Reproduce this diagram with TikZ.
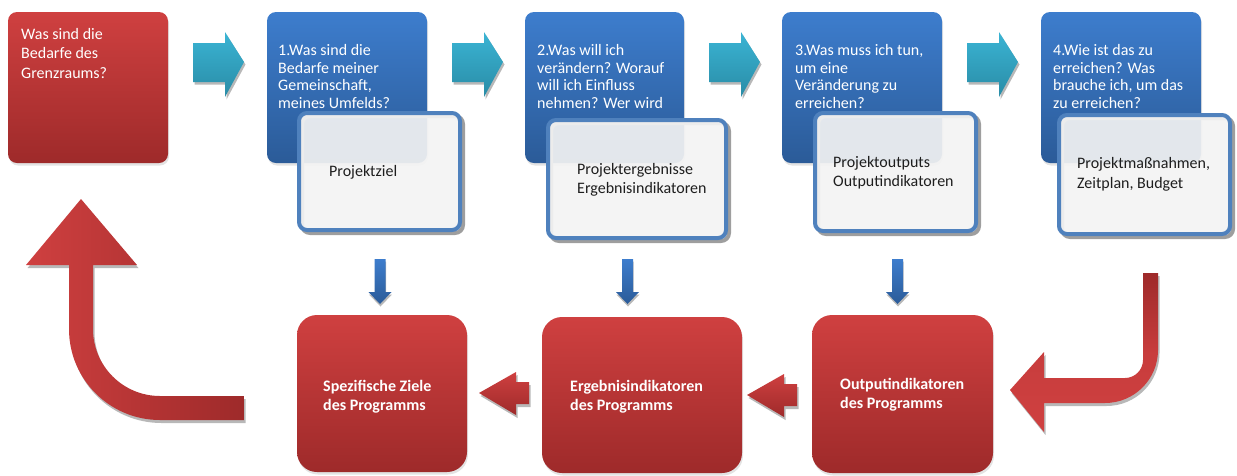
\documentclass[tikz,border=0pt]{standalone}
\usepackage{fontspec}
\setmainfont{Carlito}
\usetikzlibrary{shadows}
\definecolor{redtop}{HTML}{CF4040}
\definecolor{redbot}{HTML}{9E2A2A}
\definecolor{bluetop}{HTML}{3D7DCD}
\definecolor{bluebot}{HTML}{2B5B98}
\definecolor{tealtop}{HTML}{3AB4D4}
\definecolor{tealbot}{HTML}{2A8CA6}
\definecolor{wframe}{HTML}{4F81BD}
\definecolor{wfill}{HTML}{F3F3F3}
\definecolor{wtext}{HTML}{1E1E1E}
\begin{document}
\begin{tikzpicture}[x=1pt,y=-1pt,
  box/.style={anchor=north west, inner sep=0pt, outer sep=0pt, draw=none},
  softshadow/.style={drop shadow={shadow xshift=1pt, shadow yshift=-2.5pt, opacity=.22}},
  redbox/.style={box, rounded corners=9pt, top color=redtop, bottom color=redbot, softshadow},
  bluebox/.style={box, rounded corners=9pt, top color=bluetop, bottom color=bluebot, softshadow},
  progbox/.style={box, rounded corners=20pt, top color=redtop, bottom color=redbot, softshadow},
  wbox/.style={anchor=north west, inner sep=0pt, rounded corners=8pt, draw=wframe, line width=4pt,
    fill=wfill, fill opacity=.92,
    preaction={draw=black!38, line width=4pt, fill=none, transform canvas={xshift=3pt,yshift=-3pt}}},
  qtext/.style={anchor=north west, inner sep=0pt, text=white, align=left, font=\fontsize{16}{17.5}\selectfont},
  wtxt/.style={anchor=west, inner sep=0pt, text=wtext, align=left, font=\fontsize{16}{19.5}\selectfont},
  ptxt/.style={anchor=west, inner sep=0pt, text=white, align=left, font=\bfseries\fontsize{16}{19}\selectfont},
  arrshadow/.style={fill=black, opacity=.28},
  tealarr/.pic={
    \fill[arrshadow, xshift=1.5pt, yshift=-2.5pt] (0,0) -- (32,0) -- (32,-11) -- (51,19) -- (32,54) -- (32,39) -- (0,39) -- cycle;
    \shade[top color=tealtop, bottom color=tealbot] (0,0) -- (32,0) -- (32,-11) -- (51,19) -- (32,54) -- (32,39) -- (0,39) -- cycle;
  },
  downarr/.pic={
    \fill[arrshadow, xshift=0.5pt, yshift=-2.5pt] (-5.5,0) -- (5.5,0) -- (5.5,33) -- (11.5,33) -- (0,45) -- (-11.5,33) -- (-5.5,33) -- cycle;
    \shade[top color=bluetop, bottom color=bluebot] (-5.5,0) -- (5.5,0) -- (5.5,33) -- (11.5,33) -- (0,45) -- (-11.5,33) -- (-5.5,33) -- cycle;
  },
  leftarr/.pic={
    \fill[arrshadow, xshift=1.5pt, yshift=-3pt] (0,0) -- (37,-21) -- (37,-11) -- (50,-11) -- (50,11) -- (37,11) -- (37,22) -- cycle;
    \shade[top color=redtop, bottom color=redbot] (0,0) -- (37,-21) -- (37,-11) -- (50,-11) -- (50,11) -- (37,11) -- (37,22) -- cycle;
  }
]
\useasboundingbox (0,0) rectangle (1237,475);

% ---------- top row ----------
\node[redbox, minimum width=160pt, minimum height=151pt] (r0) at (8,12) {};
\node[qtext, font=\fontsize{16}{19.5}\selectfont] (r0t) at (21,28) {Was sind die\\Bedarfe des\\Grenzraums?};

\node[bluebox, minimum width=160pt, minimum height=151pt] (b1) at (267,12) {};
\node[bluebox, minimum width=159pt, minimum height=151pt] (b2) at (525,12) {};
\node[bluebox, minimum width=160pt, minimum height=151pt] (b3) at (782,12) {};
\node[bluebox, minimum width=160pt, minimum height=151pt] (b4) at (1041,12) {};

\node[qtext] (b1t) at (278,44.5) {1.Was sind die\\Bedarfe meiner\\Gemeinschaft,\\meines Umfelds?};
\node[qtext] (b2t) at (537,44.5) {2.Was will ich\\verändern? Worauf\\will ich Einfluss\\nehmen? Wer wird};
\node[qtext] (b3t) at (795,44.5) {3.Was muss ich tun,\\um eine\\Veränderung zu\\erreichen?};
\node[qtext] (b4t) at (1053,44.5) {4.Wie ist das zu\\erreichen? Was\\brauche ich, um das\\zu erreichen?};

\pic at (193,43) {tealarr};
\pic at (452,43) {tealarr};
\pic at (709,43) {tealarr};
\pic at (967,43) {tealarr};

% white overlay boxes
\node[wbox, minimum width=161pt, minimum height=117pt] (w1) at (297,111) {};
\node[wbox, minimum width=178pt, minimum height=118pt] (w2) at (546,118) {};
\node[wbox, minimum width=161pt, minimum height=118pt] (w3) at (813,111) {};
\node[wbox, minimum width=171pt, minimum height=119pt] (w4) at (1057,113) {};

\node[wtxt] (w1t) at (329,172) {Projektziel};
\node[wtxt] (w2t) at (577,180) {Projektergebnisse\\Ergebnisindikatoren};
\node[wtxt] (w3t) at (833,172.5) {Projektoutputs\\Outputindikatoren};
\node[wtxt] (w4t) at (1077,174.5) {Projektmaßnahmen,\\Zeitplan, Budget};

% down arrows
\pic at (380,259) {downarr};
\pic at (627.5,259) {downarr};
\pic at (897.5,259) {downarr};

% ---------- bottom row ----------
\node[progbox, minimum width=170pt, minimum height=157pt] (p1) at (297,315) {};
\node[progbox, minimum width=200pt, minimum height=156pt] (p2) at (542,317) {};
\node[progbox, minimum width=181pt, minimum height=158pt] (p3) at (812,315) {};

\node[ptxt] (p1t) at (323,396.5) {Spezifische Ziele\\des Programms};
\node[ptxt] (p2t) at (570,396.5) {Ergebnisindikatoren\\des Programms};
\node[ptxt] (p3t) at (840,394.5) {Outputindikatoren\\des Programms};

\pic at (479,393) {leftarr};
\pic at (747,395) {leftarr};

% big bent arrow on the left (back up to the first box)
\def\bigleft{(244,420) -- (160,420) .. controls (109.7,420) and (69,379.3) .. (69,329) -- (69,265) -- (26,265) -- (81,199) -- (137,265) -- (93,265) -- (93,329) .. controls (93,366) and (123,396) .. (160,396) -- (244,396) -- cycle}
\fill[arrshadow, xshift=1.5pt, yshift=-3pt] \bigleft;
\shade[left color=redtop, right color=redbot] \bigleft;

% bent arrow on the right
\def\bigright{(1143,273) -- (1158,273) -- (1158,350) .. controls (1158,379.3) and (1134.3,403) .. (1105,403) -- (1044,403) -- (1044,432) -- (1010,390) -- (1044,352) -- (1044,378) -- (1125,378) .. controls (1134.9,378) and (1143,369.9) .. (1143,360) -- cycle}
\fill[arrshadow, xshift=1.5pt, yshift=-3pt] \bigright;
\shade[top color=redbot, bottom color=redtop, middle color=redtop!85!redbot] \bigright;
\end{tikzpicture}
\end{document}
